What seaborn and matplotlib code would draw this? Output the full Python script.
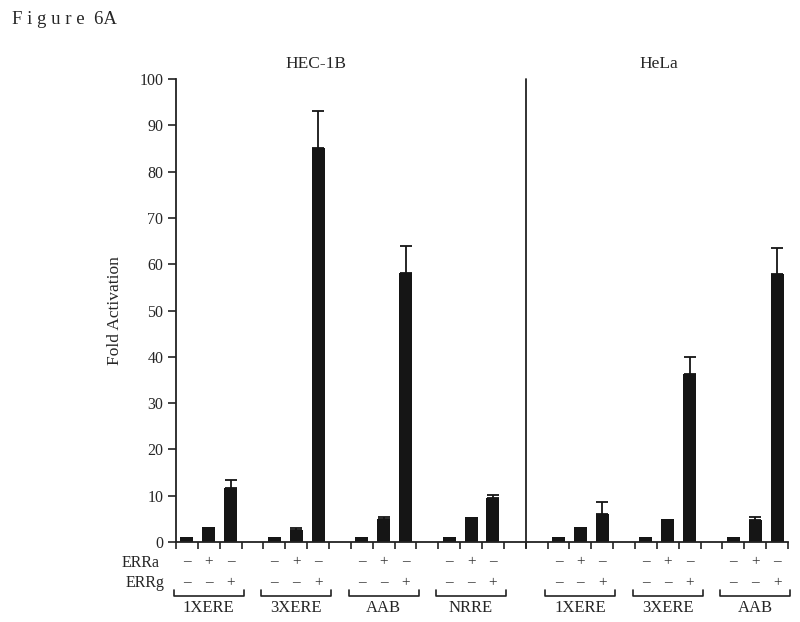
import matplotlib
matplotlib.use("Agg")
import matplotlib.pyplot as plt
import seaborn as sns
import pandas as pd
import numpy as np

# ---- data ----
cells = ["HEC-1B", "HEC-1B", "HEC-1B", "HEC-1B", "HeLa", "HeLa", "HeLa"]
constructs = ["1XERE", "3XERE", "AAB", "NRRE", "1XERE", "3XERE", "AAB"]
group_start = [0, 4, 8, 12, 17, 21, 25]
conditions = ["ctrl", "ERRa", "ERRg"]
erra_signs = ["–", "+", "–"]
errg_signs = ["–", "–", "+"]
values = [
    [1.0, 3.3, 11.7],
    [1.0, 2.6, 85.2],
    [1.0, 5.0, 58.2],
    [1.0, 5.5, 9.6],
    [1.0, 3.3, 6.0],
    [1.0, 5.0, 36.2],
    [1.0, 4.7, 57.9],
]
errors = [
    [0.0, 0.0, 1.8],
    [0.0, 0.4, 7.8],
    [0.0, 0.4, 5.8],
    [0.0, 0.0, 0.5],
    [0.0, 0.0, 2.7],
    [0.0, 0.0, 3.8],
    [0.0, 0.7, 5.6],
]
yticks = list(range(0, 101, 10))

rows = []
for g in range(len(constructs)):
    for i, c in enumerate(conditions):
        rows.append(dict(pos=group_start[g] + i, value=values[g][i],
                         err=errors[g][i], cell=cells[g], construct=constructs[g]))
df = pd.DataFrame(rows)

sns.set_theme(style="ticks")
plt.rcParams["font.family"] = ["Liberation Serif", "DejaVu Serif"]

fig = plt.figure(figsize=(8, 6.22), dpi=100)
ax = fig.add_axes([0.22, 0.1286, 0.765, 0.7444])

sns.barplot(data=df, x="pos", y="value", native_scale=True, width=0.6,
            color="#151515", saturation=1, ax=ax, errorbar=None, linewidth=0)
de = df[df["err"] > 0]
ax.errorbar(de["pos"], de["value"], yerr=[np.zeros(len(de)), de["err"]],
            fmt="none", ecolor="#151515", elinewidth=1.3, capsize=4, capthick=1.3)

ax.set_xlim(-0.5, 27.5)
ax.set_ylim(0, 100)
ax.set_yticks(yticks)
ax.set_yticklabels([str(t) for t in yticks], fontsize=11.5)
ax.set_xticks(np.arange(-0.5, 28, 1))
ax.set_xticklabels([])
ax.tick_params(axis="x", length=5, width=1.2, color="#222222")
ax.tick_params(axis="y", length=6, width=1.2, color="#222222", pad=3)
for s in ["top", "right"]:
    ax.spines[s].set_visible(False)
for s in ["left", "bottom"]:
    ax.spines[s].set_linewidth(1.3)
    ax.spines[s].set_color("#222222")
ax.set_xlabel("")
ax.set_ylabel("Fold Activation", fontsize=12.5, labelpad=12)

# divider between cell lines
ax.plot([15.5, 15.5], [1.0, -0.013], transform=ax.get_xaxis_transform(),
        color="#222222", lw=1.3, clip_on=False)

tr = ax.get_xaxis_transform()
ax.text(5.9, 1.032, "HEC-1B", transform=tr, ha="center", va="center", fontsize=12.5)
ax.text(21.6, 1.032, "HeLa", transform=tr, ha="center", va="center", fontsize=12.5)

for g in range(len(constructs)):
    s = group_start[g]
    for i in range(3):
        ax.text(s + i, -0.043, erra_signs[i], transform=tr, ha="center", va="center",
                fontsize=11, clip_on=False, color="#333333")
        ax.text(s + i, -0.087, errg_signs[i], transform=tr, ha="center", va="center",
                fontsize=11, clip_on=False, color="#333333")
    x0, x1 = s - 0.6, s + 2.6
    ax.plot([x0, x0, x1, x1], [-0.103, -0.117, -0.117, -0.103], transform=tr,
            color="#222222", lw=1.2, clip_on=False)
    ax.text(s + 1, -0.143, constructs[g], transform=tr, ha="center", va="center",
            fontsize=12, clip_on=False)

fig.text(160 / 800, 1 - 563 / 622, "ERRa", ha="right", va="center", fontsize=11.5)
fig.text(164 / 800, 1 - 583 / 622, "ERRg", ha="right", va="center", fontsize=11.5)
fig.text(12 / 800, 1 - 20 / 622, "F i g u r e  6A", ha="left", va="center", fontsize=13.5)

fig.savefig("out.png", dpi=100)
